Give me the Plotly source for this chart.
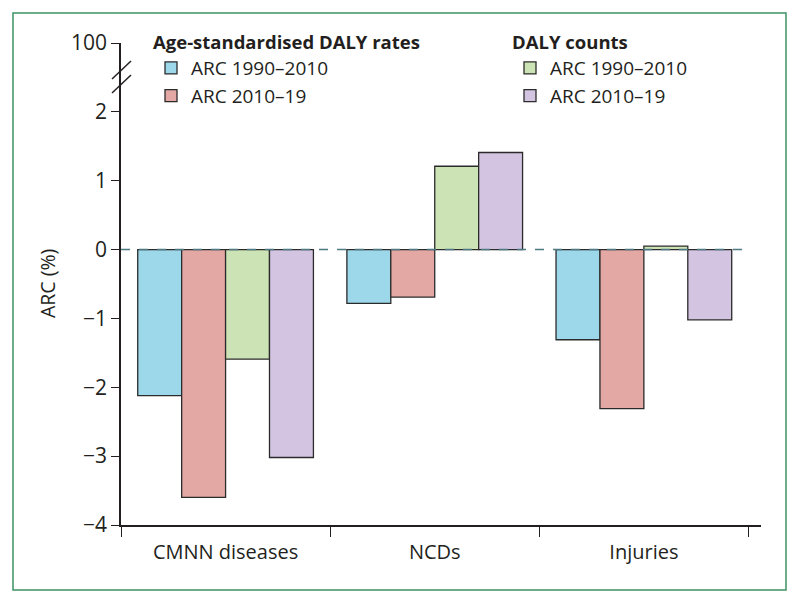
import plotly.graph_objects as go

categories = ["CMNN diseases", "NCDs", "Injuries"]
rates_1990_2010 = [-2.12, -0.78, -1.31]
rates_2010_19 = [-3.6, -0.69, -2.31]
counts_1990_2010 = [-1.59, 1.21, 0.05]
counts_2010_19 = [-3.02, 1.41, -1.02]

y_tickvals = [-4, -3, -2, -1, 0, 1, 2, 3]
y_ticktext = ["\u22124", "\u22123", "\u22122", "\u22121", "0", "1", "2", "100"]
y_title = "ARC (%)"

colors = ["#9dd7ea", "#e3a8a3", "#cce3b5", "#d3c5e2"]
FONT = "Open Sans"
TXT = "#231f20"

fig = go.Figure()
series = [
    ("ARC 1990\u20132010", rates_1990_2010, colors[0], "legend"),
    ("ARC 2010\u201319", rates_2010_19, colors[1], "legend"),
    ("ARC 1990\u20132010", counts_1990_2010, colors[2], "legend2"),
    ("ARC 2010\u201319", counts_2010_19, colors[3], "legend2"),
]
for name, vals, col, lg in series:
    fig.add_trace(go.Bar(
        x=categories, y=vals, name=name, legend=lg,
        marker=dict(color=col, line=dict(color="#2b2b2b", width=1.3)),
    ))

# page offset (body margin) in screen pixels
OFF = 8
# plot area in screen pixels: x 121..761, y 43..525
SX0, SX1, SY0, SY1 = 121, 761, 43, 525
L = SX0 - OFF
T = SY0 - OFF
R = 800 - (SX1 - OFF)
B = 604 - (SY1 - OFF)
W = SX1 - SX0
H = SY1 - SY0

def px_x(p):
    return (p - SX0) / W

def px_y(p):
    return (SY1 - p) / H

def cx(p):
    return (p - OFF) / 800

def cy(p):
    return 1 - (p - OFF) / 604

shapes = []
# zero dashed line
shapes.append(dict(type="line", xref="paper", yref="y", x0=0, x1=px_x(746), y0=0, y1=0,
                   line=dict(color="#4d7884", width=1.4, dash="dash"), layer="above"))
# axis break marks
for (xa, ya, xb, yb) in [(112, 79, 131, 61), (112, 93, 131, 75)]:
    shapes.append(dict(type="line", xref="paper", yref="paper",
                       x0=px_x(xa), y0=px_y(ya), x1=px_x(xb), y1=px_y(yb),
                       line=dict(color=TXT, width=1.5)))
# outer green frame
shapes.append(dict(type="rect", xref="paper", yref="paper",
                   x0=px_x(13), x1=px_x(786), y0=px_y(590), y1=px_y(13),
                   line=dict(color="#3f9264", width=1.5), fillcolor="rgba(0,0,0,0)"))

annotations = [dict(
    text=y_title, xref="paper", yref="paper", x=px_x(47), y=0.5,
    xanchor="center", yanchor="middle", textangle=-90, showarrow=False,
    font=dict(size=19.5, family=FONT, color=TXT),
)]

fig.update_layout(
    width=800, height=604,
    margin=dict(l=L, r=R, t=T, b=B, autoexpand=False),
    paper_bgcolor="white", plot_bgcolor="white",
    font=dict(family=FONT, size=19, color=TXT),
    barmode="group", bargap=0.16, bargroupgap=0,
    shapes=shapes, annotations=annotations,
    legend=dict(
        title=dict(text="<b>Age-standardised DALY rates</b>", font=dict(size=18.5, family=FONT, color=TXT)),
        xref="container", yref="container",
        x=cx(151), y=cy(25), xanchor="left", yanchor="top",
        font=dict(size=19, family=FONT, color=TXT), bgcolor="rgba(0,0,0,0)", tracegroupgap=0,
    ),
    legend2=dict(
        title=dict(text="<b>DALY counts</b>", font=dict(size=18.5, family=FONT, color=TXT)),
        xref="container", yref="container",
        x=cx(510), y=cy(25), xanchor="left", yanchor="top",
        font=dict(size=19, family=FONT, color=TXT), bgcolor="rgba(0,0,0,0)", tracegroupgap=0,
    ),
    xaxis=dict(
        type="category", range=[-0.5, 2.56], tickson="boundaries", automargin=False,
        ticks="outside", ticklen=10, tickwidth=1.4, tickcolor=TXT, ticklabelstandoff=8,
        showline=True, linecolor=TXT, linewidth=1.5, showgrid=False, zeroline=False,
        tickfont=dict(size=20, family=FONT, color=TXT),
    ),
    yaxis=dict(
        range=[-4, 3], tickvals=y_tickvals, ticktext=y_ticktext, automargin=False,
        ticks="outside", ticklen=8, tickwidth=1.4, tickcolor=TXT,
        showline=True, linecolor=TXT, linewidth=1.5, showgrid=False, zeroline=False,
        tickfont=dict(size=21, family=FONT, color=TXT),
    ),
)

fig.write_html("out.html")
